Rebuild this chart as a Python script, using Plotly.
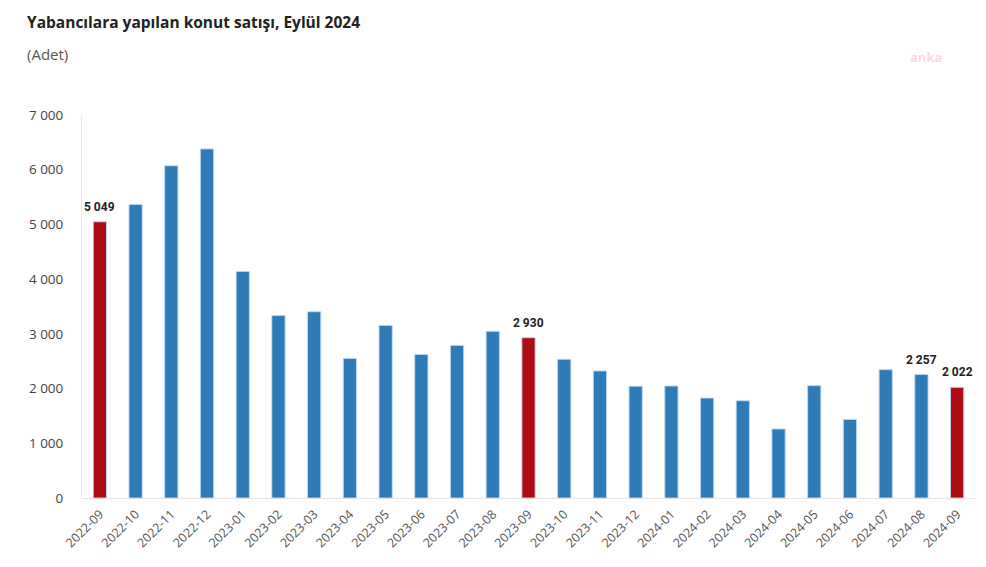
import plotly.graph_objects as go

months = ["2022-09", "2022-10", "2022-11", "2022-12", "2023-01", "2023-02", "2023-03",
          "2023-04", "2023-05", "2023-06", "2023-07", "2023-08", "2023-09", "2023-10",
          "2023-11", "2023-12", "2024-01", "2024-02", "2024-03", "2024-04", "2024-05",
          "2024-06", "2024-07", "2024-08", "2024-09"]
sales = [5049, 5366, 6072, 6380, 4141, 3334, 3404, 2551, 3155, 2622, 2788, 3046, 2930,
         2536, 2322, 2043, 2047, 1827, 1778, 1262, 2053, 1436, 2345, 2257, 2022]
highlight = ["2022-09", "2023-09", "2024-09"]
labelled = ["2022-09", "2023-09", "2024-08", "2024-09"]

BLUE = "#2e7bb8"
RED = "#ad0c14"

colors = [RED if m in highlight else BLUE for m in months]

fig = go.Figure()
fig.add_trace(go.Bar(
    x=months, y=sales,
    marker=dict(color=colors, line=dict(color="rgba(190,215,240,0.9)", width=1)),
    hoverinfo="x+y",
))

# value labels a little above the highlighted bars
for m, v in zip(months, sales):
    if m in labelled:
        fig.add_annotation(x=m, y=v, text="<b>" + f"{v:,}".replace(",", " ") + "</b>",
                           showarrow=False, yanchor="bottom", yshift=6,
                           font=dict(family="Roboto, Arial", size=12, color="#222"))

# page body has an 8px margin, so the figure is 16px smaller than the window
fig.update_layout(
    width=970, height=551,
    margin=dict(l=74, r=3, t=107, b=61),
    plot_bgcolor="white", paper_bgcolor="white",
    font=dict(family="Open Sans, Arial", size=12, color="#555"),
    separators=", ",
    bargap=0.63,
    showlegend=False,
)
fig.update_xaxes(type="category", tickangle=-45, showline=True, linecolor="#e3e3e3",
                 ticks="", tickfont=dict(size=12.5, color="#555"), automargin=False,
                 ticklabelstandoff=3, range=[-0.5, len(months) - 0.5])
fig.update_yaxes(range=[0, 7000], dtick=1000, tickformat=",d", showgrid=False,
                 showline=True, linecolor="#e8e8e8", zeroline=False, ticks="",
                 tickfont=dict(size=13.5, color="#444"), ticklabelstandoff=15, automargin=False)

fig.add_annotation(text="<b>Yabancılara yapılan konut satışı, Eylül 2024</b>", xref="paper", yref="paper",
                   x=-0.0638, y=1.243, xanchor="left", yanchor="middle", showarrow=False,
                   font=dict(family="Open Sans, Arial", size=15.5, color="#222"))
fig.add_annotation(text="(Adet)", xref="paper", yref="paper", x=-0.0638, y=1.159,
                   xanchor="left", yanchor="middle", showarrow=False,
                   font=dict(family="Open Sans, Arial", size=15, color="#555"))
fig.add_annotation(text="<b>anka</b>", xref="paper", yref="paper", x=0.945, y=1.151,
                   xanchor="center", yanchor="middle", showarrow=False,
                   font=dict(family="Open Sans, Arial", size=13, color="rgba(240,120,140,0.3)"))

fig.write_html("out.html")
